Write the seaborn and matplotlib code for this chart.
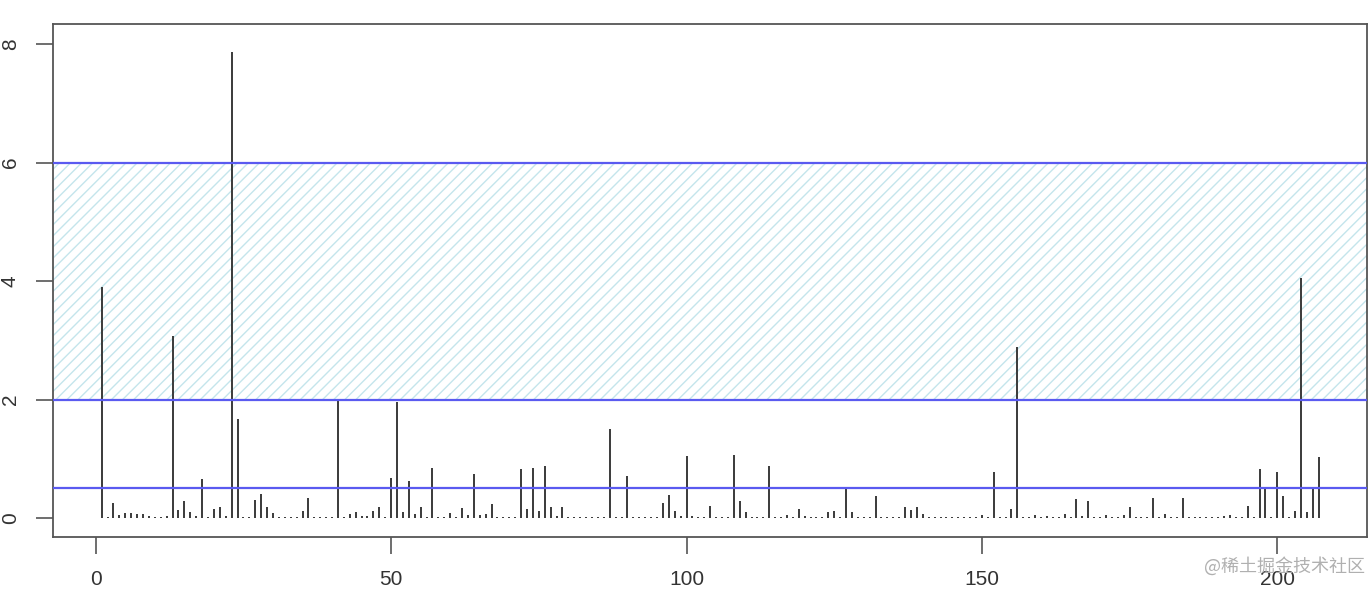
import numpy as np
import pandas as pd
import seaborn as sns
import matplotlib
matplotlib.use("Agg")
import matplotlib.pyplot as plt

# Werte (Index 1..207)
values = [
    3.90, 0.01, 0.26, 0.05, 0.09, 0.08, 0.07, 0.06, 0.03, 0.02,   # 1-10
    0.02, 0.03, 3.08, 0.13, 0.28, 0.10, 0.04, 0.66, 0.02, 0.15,   # 11-20
    0.19, 0.04, 7.86, 1.68, 0.01, 0.02, 0.30, 0.41, 0.18, 0.08,   # 21-30
    0.01, 0.01, 0.02, 0.02, 0.12, 0.33, 0.01, 0.01, 0.02, 0.01,   # 31-40
    1.97, 0.01, 0.06, 0.11, 0.03, 0.03, 0.12, 0.18, 0.02, 0.67,   # 41-50
    1.96, 0.10, 0.62, 0.06, 0.19, 0.02, 0.85, 0.01, 0.02, 0.09,   # 51-60
    0.02, 0.17, 0.05, 0.74, 0.05, 0.06, 0.23, 0.01, 0.01, 0.01,   # 61-70
    0.01, 0.82, 0.16, 0.84, 0.12, 0.88, 0.19, 0.04, 0.19, 0.01,   # 71-80
    0.02, 0.01, 0.01, 0.02, 0.01, 0.02, 1.50, 0.01, 0.02, 0.71,   # 81-90
    0.01, 0.01, 0.01, 0.01, 0.01, 0.26, 0.39, 0.12, 0.04, 1.05,   # 91-100
    0.04, 0.02, 0.02, 0.20, 0.01, 0.01, 0.02, 1.07, 0.29, 0.10,   # 101-110
    0.02, 0.02, 0.01, 0.88, 0.01, 0.02, 0.05, 0.02, 0.15, 0.03,   # 111-120
    0.02, 0.01, 0.02, 0.10, 0.12, 0.01, 0.50, 0.10, 0.01, 0.01,   # 121-130
    0.01, 0.38, 0.01, 0.01, 0.01, 0.02, 0.18, 0.14, 0.19, 0.06,   # 131-140
    0.01, 0.01, 0.01, 0.01, 0.01, 0.01, 0.01, 0.02, 0.02, 0.05,   # 141-150
    0.02, 0.77, 0.01, 0.02, 0.15, 2.89, 0.01, 0.01, 0.05, 0.02,   # 151-160
    0.03, 0.01, 0.01, 0.07, 0.01, 0.32, 0.04, 0.29, 0.01, 0.01,   # 161-170
    0.05, 0.01, 0.01, 0.05, 0.19, 0.01, 0.01, 0.01, 0.34, 0.01,   # 171-180
    0.06, 0.01, 0.01, 0.34, 0.01, 0.01, 0.01, 0.01, 0.01, 0.02,   # 181-190
    0.03, 0.05, 0.02, 0.02, 0.20, 0.01, 0.82, 0.50, 0.01, 0.78,   # 191-200
    0.38, 0.01, 0.12, 4.05, 0.10, 0.50, 1.03,                     # 201-207
]
index = list(range(1, len(values) + 1))
ref_lines = [0.5, 2, 6]        # blaue Linien
band = (2, 6)                  # schraffierter Bereich
x_ticks = [0, 50, 100, 150, 200]
y_ticks = [0, 2, 4, 6, 8]

df = pd.DataFrame({"idx": index, "val": values})

sns.set_style("ticks")
plt.rcParams["hatch.linewidth"] = 1.0
plt.rcParams["font.family"] = ["Liberation Sans", "DejaVu Sans"]

fig = plt.figure(figsize=(13.72, 5.91), dpi=100)
ax = fig.add_axes([0.0386, 0.0914, 0.958, 0.868])

# Schraffur zwischen 2 und 6
ax.axhspan(band[0], band[1], facecolor="none", edgecolor="#c4e5ec",
           hatch="///", linewidth=0, zorder=0)

# Spikes (type = "h")
ax.vlines(df["idx"], 0, df["val"], color="#3a3a3a", linewidth=1.4, zorder=2)

for y in ref_lines:
    ax.axhline(y, color="#5a5af0", linewidth=1.6, zorder=3)

ax.set_xlim(-7.24, 215.24)
ax.set_ylim(-0.32, 8.34)
ax.set_xticks(x_ticks)
ax.set_yticks(y_ticks)
ax.tick_params(axis="both", direction="out", length=12, width=1.2,
               color="#555555", labelsize=15, labelcolor="#333333", pad=12)
for lab in ax.get_yticklabels():
    lab.set_rotation(90)
    lab.set_va("center")
for s in ax.spines.values():
    s.set_color("#555555")
    s.set_linewidth(1.3)

# Wasserzeichen
fig.text(0.995, 0.025, "@稀土掘金技术社区", ha="right", va="bottom",
         fontsize=13, color="#b0b0b0", family=["Noto Sans CJK SC", "DejaVu Sans"])

fig.savefig("out.png", dpi=100)
